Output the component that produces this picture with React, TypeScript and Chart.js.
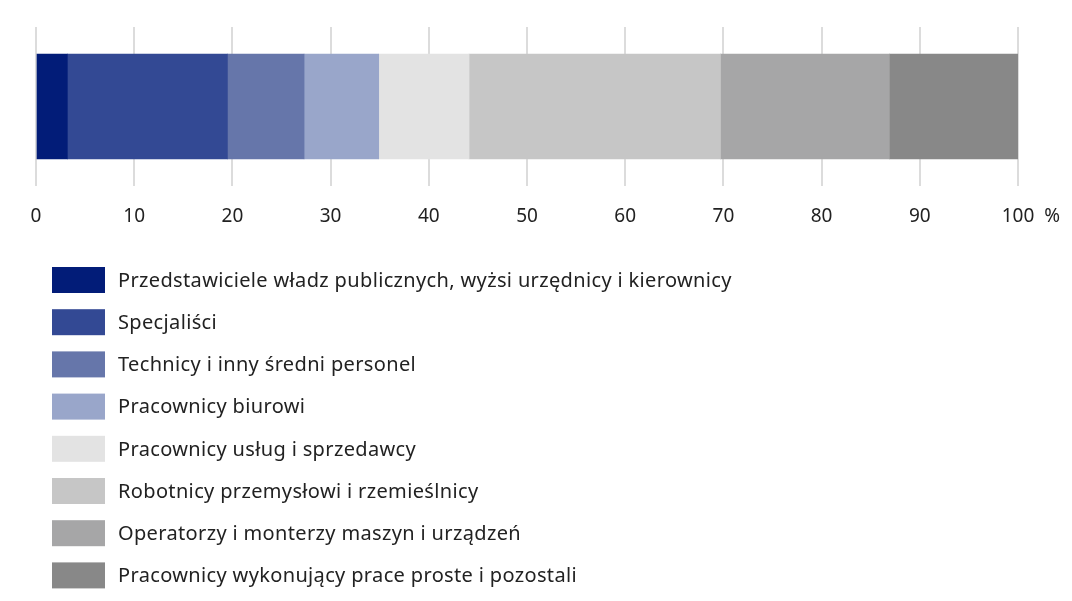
import React, { useEffect, useRef } from "react";
import { Chart, registerables } from "chart.js";

Chart.register(...registerables);

const categories = ["2023"];
const seriesLabels = [
  "Przedstawiciele władz publicznych, wyżsi urzędnicy i kierownicy",
  "Specjaliści",
  "Technicy i inny średni personel",
  "Pracownicy biurowi",
  "Pracownicy usług i sprzedawcy",
  "Robotnicy przemysłowi i rzemieślnicy",
  "Operatorzy i monterzy maszyn i urządzeń",
  "Pracownicy wykonujący prace proste i pozostali",
];
const seriesValues = [3.2, 16.3, 7.8, 7.6, 9.2, 25.6, 17.2, 13.1];
const seriesColors = [
  "#021c78",
  "#334994",
  "#6676aa",
  "#99a6ca",
  "#e3e3e3",
  "#c6c6c6",
  "#a6a6a7",
  "#888888",
];
const xTicks = [0, 10, 20, 30, 40, 50, 60, 70, 80, 90, 100];

const FONT = "'Noto Sans', 'Open Sans', sans-serif";
const TEXT = "#222222";

const legendPlugin = {
  id: "stackLegend",
  afterDraw(chart: any) {
    const ctx = chart.ctx;
    const ds = chart.data.datasets;
    ctx.save();
    ctx.font = `20px ${FONT}`;
    (ctx as any).letterSpacing = "0.35px";
    ctx.textBaseline = "middle";
    ds.forEach((d: any, i: number) => {
      const cy = 280 + i * 42.2;
      ctx.fillStyle = d.backgroundColor;
      ctx.fillRect(52, cy - 13, 53, 26);
      ctx.fillStyle = TEXT;
      ctx.fillText(d.label, 118, cy + 1);
    });
    (ctx as any).letterSpacing = "0px";
    // percent sign after the last tick label
    const xs = chart.scales.x;
    const px = xs.getPixelForValue(100);
    ctx.font = `19px ${FONT}`;
    const w = ctx.measureText("100").width;
    ctx.textAlign = "left";
    ctx.fillText("%", px + w / 2 + 10, 217);
    ctx.restore();
  },
};

export default function App() {
  const ref = useRef<HTMLCanvasElement>(null);
  useEffect(() => {
    if (!ref.current) return;
    const chart = new Chart(ref.current, {
      type: "bar",
      data: {
        labels: categories,
        datasets: seriesLabels.map((label, i) => ({
          label,
          data: [seriesValues[i]],
          backgroundColor: seriesColors[i],
          borderWidth: 0,
          barThickness: 105,
        })),
      },
      options: {
        indexAxis: "y",
        animation: false,
        responsive: true,
        maintainAspectRatio: false,
        layout: { padding: { left: 36, right: 54, top: 27, bottom: 361 } },
        plugins: { legend: { display: false }, tooltip: { enabled: false } },
        scales: {
          x: {
            type: "linear",
            stacked: true,
            min: 0,
            max: 100,
            border: { display: false },
            grid: { color: "#dcdcdc", lineWidth: 2, tickLength: 0 },
            afterBuildTicks: (s: any) => {
              s.ticks = xTicks.map((v) => ({ value: v }));
            },
            afterFit: (s: any) => {
              s.height = 54;
            },
            ticks: {
              padding: 19,
              color: TEXT,
              font: { family: FONT, size: 19 },
              maxRotation: 0,
              callback: (v: any) => String(v),
            },
          },
          y: {
            stacked: true,
            display: false,
          },
        },
      },
      plugins: [legendPlugin],
    });
    return () => chart.destroy();
  }, []);
  return (
    <div style={{ position: "fixed", left: 0, top: 0, width: 1072, height: 601, background: "#fff" }}>
      <canvas ref={ref} />
    </div>
  );
}
